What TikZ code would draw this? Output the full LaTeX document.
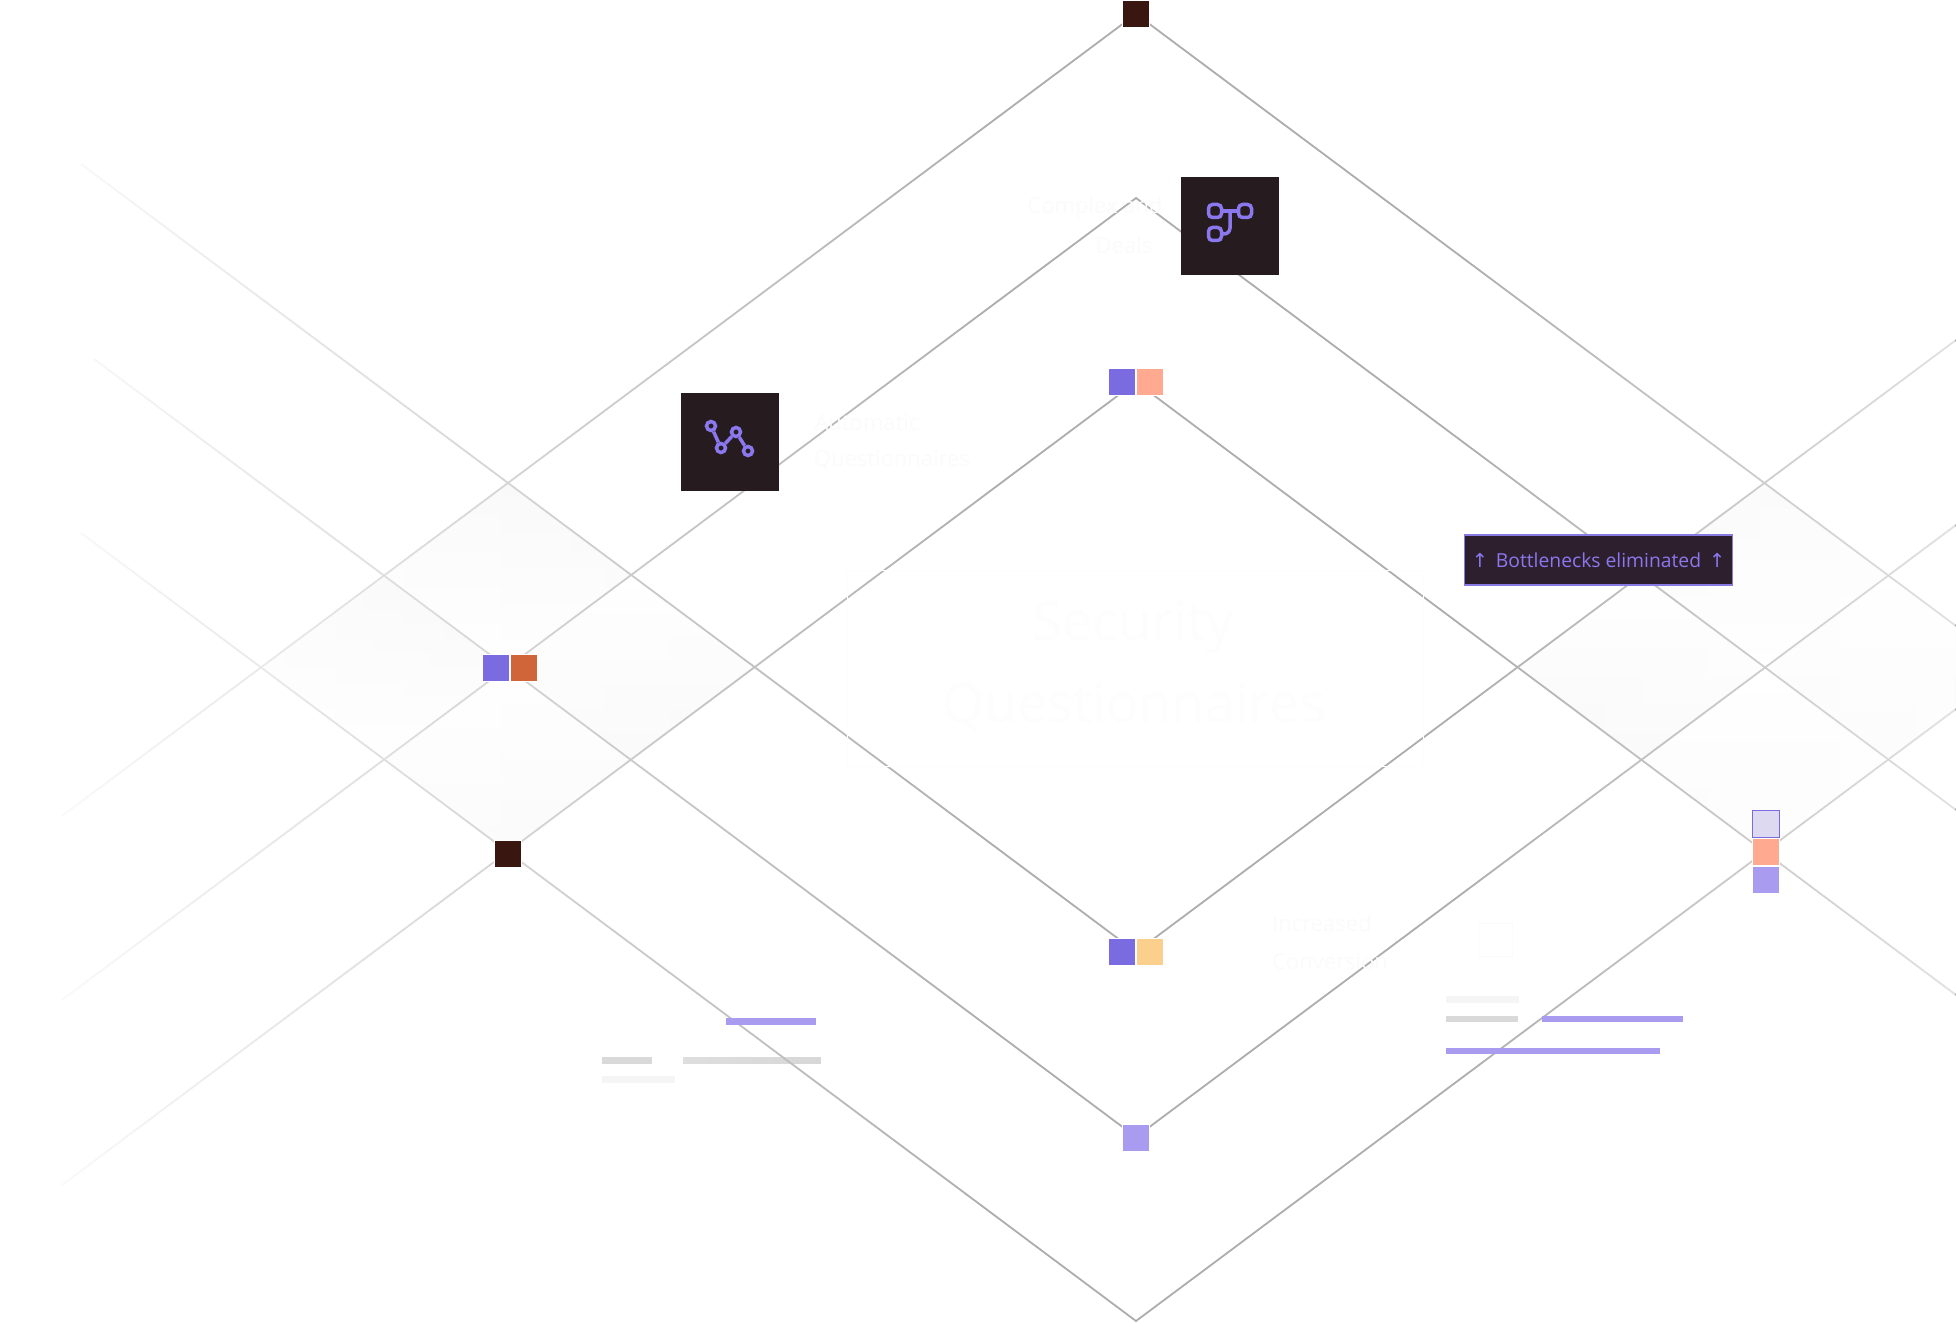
\documentclass[tikz,border=0pt]{standalone}
\usepackage{fontspec}
\setmainfont{Open Sans}
\newfontfamily\arrowfont{DejaVu Sans}
\usetikzlibrary{fadings}
\definecolor{violet}{HTML}{7B6BE0}
\definecolor{lilac}{HTML}{A99CF0}
\definecolor{mist}{HTML}{DDD9F0}
\definecolor{peach}{HTML}{FFAA90}
\definecolor{sand}{HTML}{FBD08C}
\definecolor{rust}{HTML}{D0653A}
\definecolor{umber}{HTML}{3A1610}
\definecolor{ink}{HTML}{261C1F}
\definecolor{plum}{HTML}{2D1F2D}
\definecolor{glyph}{HTML}{8B78EE}
\definecolor{ghost}{HTML}{FBFBFB}
\definecolor{ghostbig}{HTML}{FDFDFD}
\tikzfading[name=fadeleft, left color=transparent!0, right color=transparent!100]
\tikzfading[name=faderight, left color=transparent!100, right color=transparent!35]
\tikzset{
  gridline/.style={draw=black!32,line width=1.8pt},
  cell/.style={draw=white,line width=1pt,minimum size=27pt,inner sep=0pt},
  iconbox/.style={fill=ink,minimum size=98pt,inner sep=0pt},
  iconline/.style={draw=glyph,line width=3.5pt},
  bar/.style={fill=#1,draw=none},
  ghostline/.style={font=\fontsize{#1}{#1}\selectfont,text=ghost,inner sep=0pt},
}
\begin{document}
\begin{tikzpicture}[x=1pt,y=-1pt]
\useasboundingbox (0,0) rectangle (1956,1324);
\fill[white] (0,0) rectangle (1956,1324);
% shaded cells
\shade[top color=black!4,bottom color=white] (508,483) -- (631,575) -- (508,668) -- (385,575) -- cycle;
\shade[top color=black!5,bottom color=white] (385,577) -- (508,668) -- (385,760) -- (262,668) -- cycle;
\shade[top color=white,bottom color=black!3] (631,577) -- (753,668) -- (631,760) -- (508,668) -- cycle;
\shade[top color=white,bottom color=black!3] (508,668) -- (631,760) -- (508,853) -- (385,760) -- cycle;
\shade[top color=black!2.5,bottom color=white] (1764,483) -- (1887,575) -- (1764,668) -- (1641,575) -- cycle;
\shade[top color=white,bottom color=black!2.5] (1518,668) -- (1641,575) -- (1764,668) -- (1641,759) -- cycle;
\shade[top color=white,bottom color=black!2.5] (1764,668) -- (1887,575) -- (1956,627) -- (1956,708) -- (1887,759) -- cycle;
\shade[top color=white,bottom color=black!1.5] (1764,668) -- (1887,759) -- (1764,853) -- (1641,759) -- cycle;
% bar under the lines
\fill[bar=black!19] (683,1057) rectangle (821,1064);
% apexes and free ends
\coordinate (topA) at (1136,14);
\coordinate (topB) at (1136,198);
\coordinate (topC) at (1136,382);
\coordinate (botA) at (1136,1321);
\coordinate (botB) at (1136,1137);
\coordinate (botC) at (1136,952);
\coordinate (westA) at (62,816);
\coordinate (westB) at (62,1000);
\coordinate (westC) at (62,1185);
\coordinate (westD) at (81,533);
\coordinate (westE) at (94,359);
\coordinate (westF) at (81,164);
\coordinate (eastA) at (1956,626);
\coordinate (eastB) at (1956,810);
\coordinate (eastC) at (1956,995);
\coordinate (eastD) at (1956,709);
\coordinate (eastE) at (1956,525);
\coordinate (eastF) at (1956,340);
\foreach \from/\mid/\to in {westA/topA/eastA,westB/topB/eastB,westC/topC/eastC,westD/botA/eastD,westE/botB/eastE,westF/botC/eastF}
  \draw[gridline] (\from) -- (\mid) -- (\to);
% lines wash out at both sides
\fill[white,path fading=fadeleft] (0,0) rectangle (1000,1324);
\fill[white,path fading=faderight] (1450,0) rectangle (1956,1324);
% faint texts
\node[ghostline=54,text=ghostbig] (secA) at (1133,627) {Security};
\node[ghostline=54,text=ghostbig] (secB) at (1134,707) {Questionnaires};
\draw[ghostbig,line width=1pt] (847,570) rectangle (1423,766);
\node[ghostline=22] (autoA) at (867,423) {Automatic};
\node[ghostline=22] (autoB) at (892,460) {Questionnaires};
\node[ghostline=22] (dealA) at (1095,208) {Complex and};
\node[ghostline=22] (dealB) at (1124,245) {Deals};
\node[ghostline=22] (convA) at (1322,923) {Increased};
\node[ghostline=22] (convB) at (1330,962) {Conversion};
\draw[ghost,line width=1pt] (1478,923) rectangle (1512,956);
% bars
\fill[bar=lilac] (726,1018) rectangle (816,1025);
\fill[bar=black!15] (602,1057) rectangle (652,1064);
\fill[bar=black!4] (602,1076) rectangle (675,1083);
\fill[bar=black!4] (1446,996) rectangle (1519,1003);
\fill[bar=black!15] (1446,1016) rectangle (1518,1022);
\fill[bar=lilac] (1542,1016) rectangle (1683,1022);
\fill[bar=lilac] (1446,1048) rectangle (1660,1054);
% small squares
\node[cell,fill=umber] (sqTop) at (1135.5,14.5) {};
\node[cell,fill=violet] (sqLeftA) at (496,667.5) {};
\node[cell,fill=rust] (sqLeftB) at (524,667.5) {};
\node[cell,fill=umber] (sqDark) at (508,854) {};
\node[cell,fill=violet] (sqMidA) at (1122,381.5) {};
\node[cell,fill=peach] (sqMidB) at (1150,381.5) {};
\node[cell,fill=violet] (sqLowA) at (1122,951.5) {};
\node[cell,fill=sand] (sqLowB) at (1150,951.5) {};
\node[cell,fill=lilac] (sqBot) at (1136,1138) {};
\node[cell,draw=violet,line width=1pt,fill=mist,minimum size=26.5pt] (sqRightA) at (1766,824) {};
\node[cell,fill=peach] (sqRightB) at (1766,852) {};
\node[cell,fill=lilac] (sqRightC) at (1766,880) {};
% icon boxes
\node[iconbox] (boxFlow) at (1230,226) {};
\node[iconbox] (boxPath) at (730,442) {};
\draw[iconline,rounded corners=4pt] (1208.5,204.5) rectangle (1221.5,217.5);
\draw[iconline,rounded corners=4pt] (1238.5,204.5) rectangle (1251.5,217.5);
\draw[iconline,rounded corners=4pt] (1208.5,227.5) rectangle (1221.5,240.5);
\draw[iconline] (1221.5,211) -- (1238.5,211);
\draw[iconline,rounded corners=6pt] (1230,211) -- (1230,234) -- (1221.5,234);
\node[circle,iconline,minimum size=9pt,inner sep=0pt] (dotA) at (711,426) {};
\node[circle,iconline,minimum size=9pt,inner sep=0pt] (dotB) at (721,448) {};
\node[circle,iconline,minimum size=9pt,inner sep=0pt] (dotC) at (736,432) {};
\node[circle,iconline,minimum size=9pt,inner sep=0pt] (dotD) at (748,451) {};
\draw[iconline] (dotA) -- (dotB);
\draw[iconline] (dotB) -- (dotC);
\draw[iconline] (dotC) -- (dotD);
% tag
\node[fill=plum,draw=violet!90,line width=1.5pt,minimum width=268pt,minimum height=50pt,inner sep=0pt,text=glyph,font=\fontsize{19.3}{21}\selectfont] (tagNeck) at (1598.5,560) {{\arrowfont ↑}\hspace{8pt}Bottlenecks eliminated\hspace{8pt}{\arrowfont ↑}};
\end{tikzpicture}
\end{document}
